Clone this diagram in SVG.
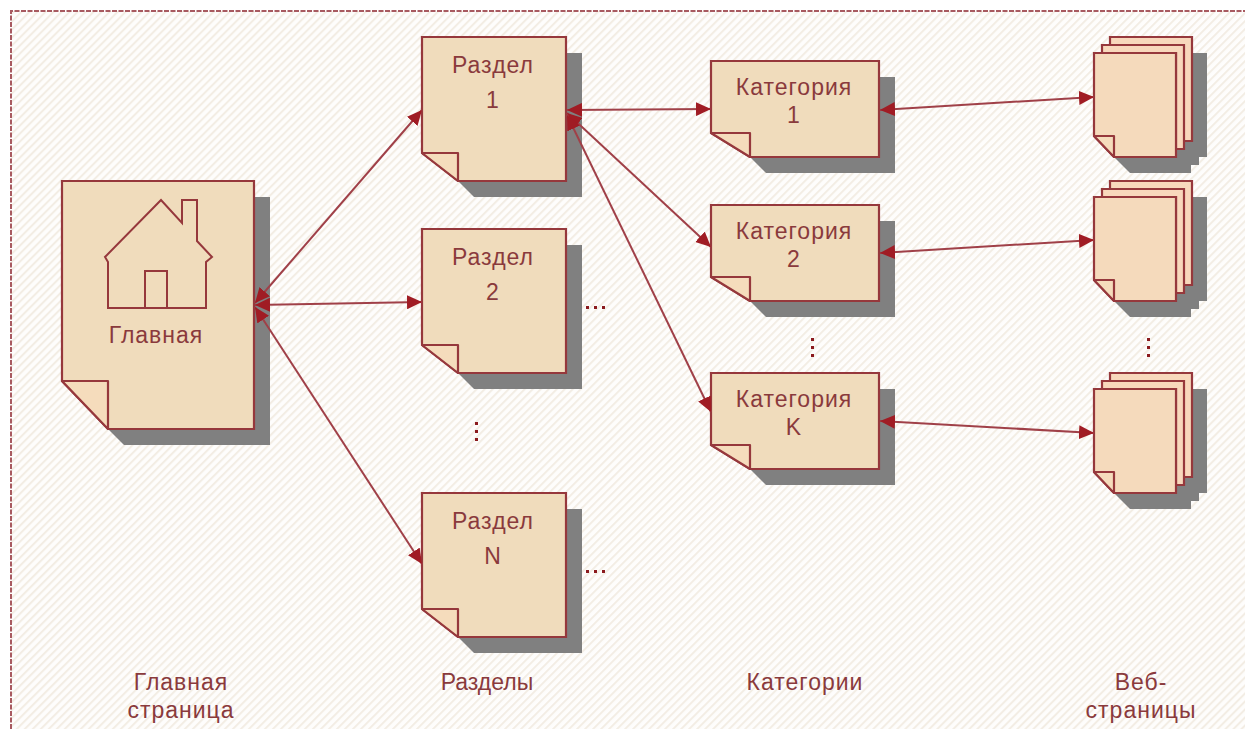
<svg xmlns="http://www.w3.org/2000/svg" width="1245" height="729" viewBox="0 0 1245 729">
<style>
.paper{fill:#f0dcbc;stroke:#96383c;stroke-width:2.2}
.page{fill:#f5dabc;stroke:#96383c;stroke-width:2.2}
.sheet{fill:#f8d8bc;stroke:#96383c;stroke-width:2.2}
.fold{fill:#f5dcbc;stroke:#96383c;stroke-width:2.2;stroke-linejoin:round}
.shadow{fill:#808080}
.t{font-family:"Liberation Sans",Arial,sans-serif;font-size:23px;fill:#8a3a3c;text-anchor:middle;letter-spacing:1px}
.c{fill:none;stroke:#a04048;stroke-width:2;marker-start:url(#a);marker-end:url(#a)}
.dots{fill:#8b1a1e}
</style>
<defs>
<pattern id="h" width="5.66" height="8" patternUnits="userSpaceOnUse" patternTransform="rotate(45)">
<rect width="5.66" height="8" fill="#fefdfc"/><rect width="2" height="8" fill="#f3ede4"/>
</pattern>
<marker id="a" markerWidth="16" markerHeight="14" refX="15" refY="7" orient="auto-start-reverse" markerUnits="userSpaceOnUse">
<path d="M0 0L15 7L0 14Z" fill="#a01c24"/>
</marker>
</defs>
<rect width="1245" height="729" fill="#fff"/>
<rect x="11" y="11" width="1234" height="718" fill="url(#h)"/>
<path d="M11 729V11H1245" fill="none" stroke="#a85a60" stroke-width="2" stroke-dasharray="5 1.5"/>
<g id="glavnaya">
<path class="shadow" d="M254 197H270V445H124L108 429H254Z"/>
<path class="paper" d="M62 181H254V429H108L62 381Z"/>
<path class="fold" d="M62 381H108V429Z"/>
<path d="M108 262L105 257L161 200L182 223V200H197V241L212 257L206 262V308H108ZM145 308V271H167V308" fill="none" stroke="#96383c" stroke-width="2"/>
<text class="t" x="156" y="343">Главная</text>
</g>
<g id="razdel1"><path class="shadow" d="M566 53H582V197H474L458 181H566Z"/><path class="paper" d="M422 37H566V181H458L422 153Z"/><path class="fold" d="M422 153H458V181Z"/><text class="t" x="493" y="73">Раздел</text><text class="t" x="493" y="108">1</text></g>
<g id="razdel2"><path class="shadow" d="M566 245H582V389H474L458 373H566Z"/><path class="paper" d="M422 229H566V373H458L422 345Z"/><path class="fold" d="M422 345H458V373Z"/><text class="t" x="493" y="265">Раздел</text><text class="t" x="493" y="300">2</text></g>
<g id="razdelN"><path class="shadow" d="M566 509H582V653H474L458 637H566Z"/><path class="paper" d="M422 493H566V637H458L422 609Z"/><path class="fold" d="M422 609H458V637Z"/><text class="t" x="493" y="529">Раздел</text><text class="t" x="493" y="564">N</text></g>
<g id="kat1"><path class="shadow" d="M879 77H895V173H766L750 157H879Z"/><path class="paper" d="M711 61H879V157H750L711 133Z"/><path class="fold" d="M711 133H750V157Z"/><text class="t" x="794" y="95">Категория</text><text class="t" x="794" y="123">1</text></g>
<g id="kat2"><path class="shadow" d="M879 221H895V317H766L750 301H879Z"/><path class="paper" d="M711 205H879V301H750L711 277Z"/><path class="fold" d="M711 277H750V301Z"/><text class="t" x="794" y="239">Категория</text><text class="t" x="794" y="267">2</text></g>
<g id="katK"><path class="shadow" d="M879 389H895V485H766L750 469H879Z"/><path class="paper" d="M711 373H879V469H750L711 445Z"/><path class="fold" d="M711 445H750V469Z"/><text class="t" x="794" y="407">Категория</text><text class="t" x="794" y="435">K</text></g>
<g id="pages1"><path class="shadow" d="M1126 53H1207V157H1199V165H1191V173H1130L1114 157Z"/><path class="sheet" d="M1110 45V37H1192V141H1176V45Z"/><path class="sheet" d="M1102 53V45H1184V149H1176V53Z"/><path class="page" d="M1094 53H1176V157H1114L1094 136Z"/><path class="fold" d="M1094 136H1114V157Z"/></g>
<g id="pages2"><path class="shadow" d="M1126 197H1207V301H1199V309H1191V317H1130L1114 301Z"/><path class="sheet" d="M1110 189V181H1192V285H1176V189Z"/><path class="sheet" d="M1102 197V189H1184V293H1176V197Z"/><path class="page" d="M1094 197H1176V301H1114L1094 280Z"/><path class="fold" d="M1094 280H1114V301Z"/></g>
<g id="pages3"><path class="shadow" d="M1126 389H1207V493H1199V501H1191V509H1130L1114 493Z"/><path class="sheet" d="M1110 381V373H1192V477H1176V381Z"/><path class="sheet" d="M1102 389V381H1184V485H1176V389Z"/><path class="page" d="M1094 389H1176V493H1114L1094 472Z"/><path class="fold" d="M1094 472H1114V493Z"/></g>
<g id="connectors">
<line class="c" x1="255" y1="303" x2="422" y2="110"/>
<line class="c" x1="255" y1="305" x2="422" y2="302"/>
<line class="c" x1="255" y1="307" x2="422" y2="564"/>
<line class="c" x1="567" y1="110" x2="711" y2="109"/>
<line class="c" x1="567" y1="113" x2="711" y2="247"/>
<line class="c" x1="567" y1="115" x2="711" y2="412"/>
<line class="c" x1="880" y1="110" x2="1094" y2="97"/>
<line class="c" x1="880" y1="253" x2="1094" y2="240"/>
<line class="c" x1="880" y1="421" x2="1094" y2="433"/>
</g>
<g id="dots" class="dots">
<rect x="586" y="306" width="3" height="3"/><rect x="594" y="306" width="3" height="3"/><rect x="602" y="306" width="3" height="3"/>
<rect x="586" y="570" width="3" height="3"/><rect x="594" y="570" width="3" height="3"/><rect x="602" y="570" width="3" height="3"/>
<rect x="475" y="422" width="3" height="3"/><rect x="475" y="430" width="3" height="3"/><rect x="475" y="438" width="3" height="3"/>
<rect x="811" y="338" width="3" height="3"/><rect x="811" y="346" width="3" height="3"/><rect x="811" y="354" width="3" height="3"/>
<rect x="1147" y="338" width="3" height="3"/><rect x="1147" y="346" width="3" height="3"/><rect x="1147" y="354" width="3" height="3"/>
</g>
<g id="labels">
<text class="t" x="181" y="690">Главная</text><text class="t" x="181" y="718">страница</text>
<text class="t" x="487" y="690" style="letter-spacing:0">Разделы</text>
<text class="t" x="805" y="690">Категории</text>
<text class="t" x="1141" y="690">Веб-</text><text class="t" x="1141" y="718">страницы</text>
</g>
</svg>
